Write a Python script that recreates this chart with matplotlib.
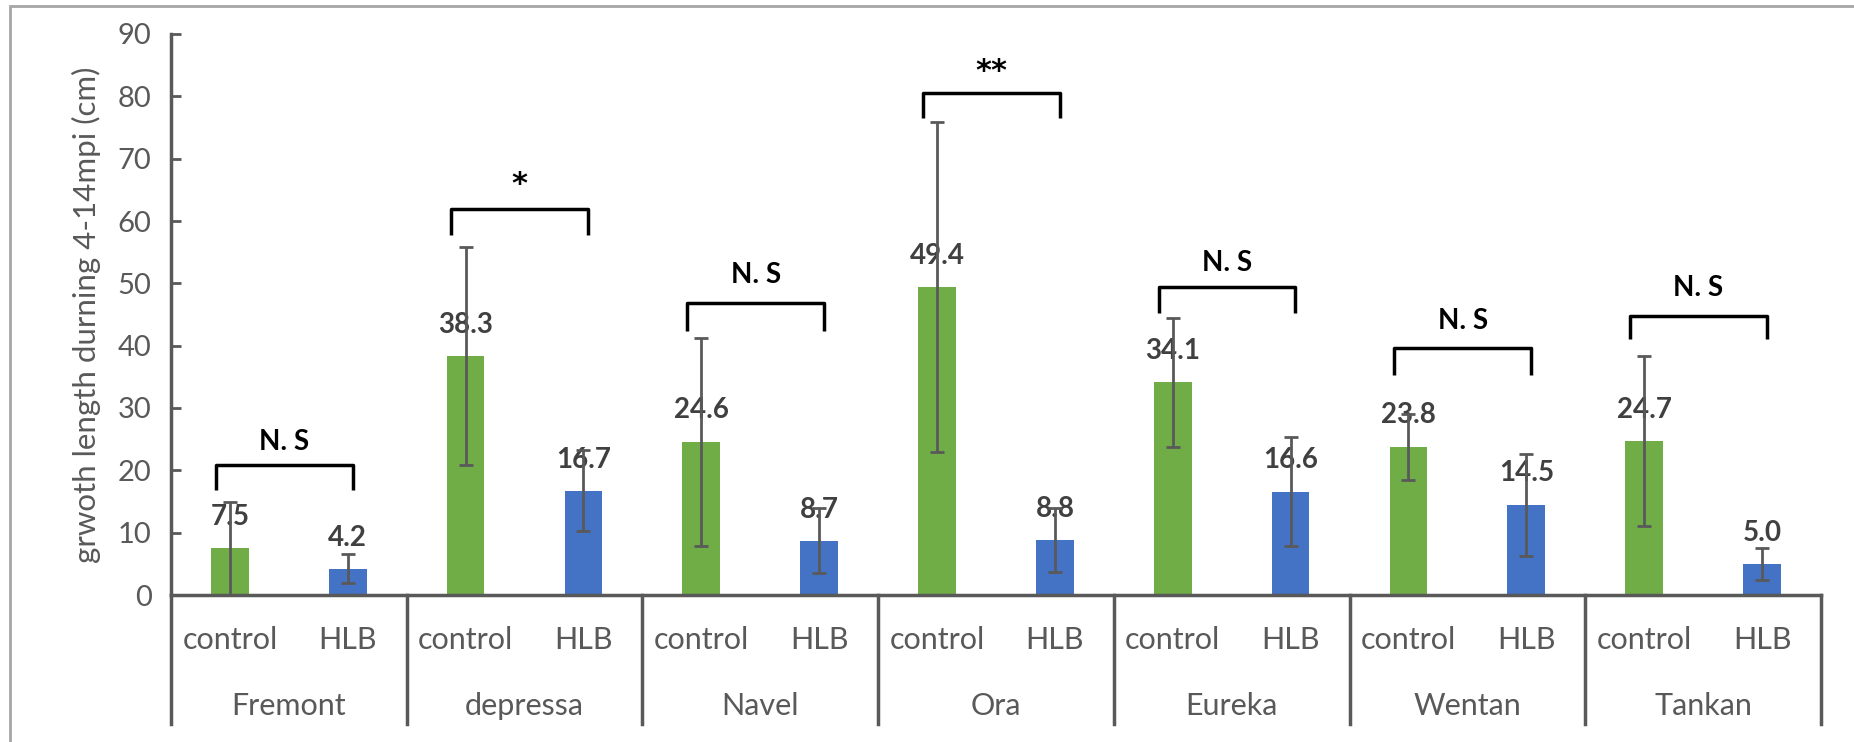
import matplotlib
matplotlib.use("Agg")
import matplotlib.pyplot as plt
from matplotlib.lines import Line2D
from matplotlib.patches import Rectangle

# cultivars and treatments
cultivars = ["Fremont", "depressa", "Navel", "Ora", "Eureka", "Wentan", "Tankan"]
treatments = ["control", "HLB"]

# mean growth length (cm)
control_mean = [7.5, 38.3, 24.6, 49.4, 34.1, 23.8, 24.7]
hlb_mean = [4.2, 16.7, 8.7, 8.8, 16.6, 14.5, 5.0]

# error bar half widths
control_err = [7.5, 17.5, 16.7, 26.5, 10.4, 5.3, 13.7]
hlb_err = [2.3, 6.5, 5.2, 5.1, 8.7, 8.2, 2.6]

# significance labels and bracket heights
sig_labels = ["N. S", "*", "N. S", "**", "N. S", "N. S", "N. S"]
bracket_top = [20.9, 61.9, 46.9, 80.6, 49.4, 39.7, 44.8]
bracket_leg = [16.9, 57.8, 42.3, 76.5, 45.2, 35.3, 41.0]
sig_y = [24.6, 65.8, 51.3, 84.0, 53.2, 43.9, 49.3]

yticks = [0, 10, 20, 30, 40, 50, 60, 70, 80, 90]
ylabel = "grwoth length durning 4-14mpi (cm)"

GREEN = "#70AD47"
BLUE = "#4472C4"
GRAY = "#595959"
plt.rcParams['font.family'] = ['Lato', 'DejaVu Sans']

W, H = 1854, 742
fig = plt.figure(figsize=(W / 100, H / 100), dpi=100)
ax = fig.add_axes([171 / W, 1 - 595 / H, (1821 - 171) / W, (595 - 34) / H])

bw = 0.32
xc = [2 * i + 0.5 for i in range(len(cultivars))]
xh = [2 * i + 1.5 for i in range(len(cultivars))]

ekw = dict(ecolor=GRAY, elinewidth=2, capsize=5, capthick=2)
ax.bar(xc, control_mean, width=bw, color=GREEN, yerr=control_err, error_kw=ekw, zorder=2)
ax.bar(xh, hlb_mean, width=bw, color=BLUE, yerr=hlb_err, error_kw=ekw, zorder=2)

# value labels
for x, v in zip(xc + xh, control_mean + hlb_mean):
    ax.text(x, v + 5, f"{v:.1f}", ha="center", va="center", fontsize=20,
            fontweight="bold", color="#404040", zorder=1)

# significance brackets
for i in range(len(cultivars)):
    x0 = xc[i] - 0.12
    x1 = xh[i] + 0.04
    ax.plot([x0, x0, x1, x1], [bracket_leg[i], bracket_top[i], bracket_top[i], bracket_leg[i]],
            color="black", lw=2.5, solid_joinstyle="round", solid_capstyle="butt")
    lab = sig_labels[i]
    if "*" in lab:
        ax.text((x0 + x1) / 2, sig_y[i], lab, ha="center", va="center",
                fontsize=22, fontweight="bold", color="black", family="DejaVu Sans")
    else:
        ax.text((x0 + x1) / 2, sig_y[i], lab, ha="center", va="center",
                fontsize=20, fontweight="bold", color="black")

ax.set_xlim(0, 2 * len(cultivars))
ax.set_ylim(0, 90)
ax.set_yticks(yticks)
ax.set_xticks([])
ax.tick_params(axis="y", direction="in", length=7, width=2, color=GRAY,
               labelcolor=GRAY, labelsize=21, pad=14)
for s in ["top", "right"]:
    ax.spines[s].set_visible(False)
for s in ["left", "bottom"]:
    ax.spines[s].set_color(GRAY)
    ax.spines[s].set_linewidth(2.5)
ax.set_ylabel(ylabel, fontsize=22.5, color=GRAY, labelpad=12)

# two-level category axis
tr = ax.get_xaxis_transform()
y_sub = -(640 - 595) / (595 - 34)
y_grp = -(706 - 595) / (595 - 34)
y_end = -(724 - 595) / (595 - 34)
for i, name in enumerate(cultivars):
    ax.text(xc[i], y_sub, treatments[0], transform=tr, ha="center", va="center",
            fontsize=22, color=GRAY)
    ax.text(xh[i], y_sub, treatments[1], transform=tr, ha="center", va="center",
            fontsize=22, color=GRAY)
    ax.text(2 * i + 1, y_grp, name, transform=tr, ha="center", va="center",
            fontsize=22, color=GRAY)
for k in range(len(cultivars) + 1):
    ax.add_line(Line2D([2 * k, 2 * k], [0, y_end], transform=tr, color=GRAY,
                       lw=2.5, clip_on=False))

# chart frame
fig.patches.append(Rectangle((10 / W, -0.1), 1.2, 1 - 6 / H + 0.1, transform=fig.transFigure,
                             fill=False, edgecolor="#A6A6A6", lw=2))

fig.savefig("out.png", dpi=100)
